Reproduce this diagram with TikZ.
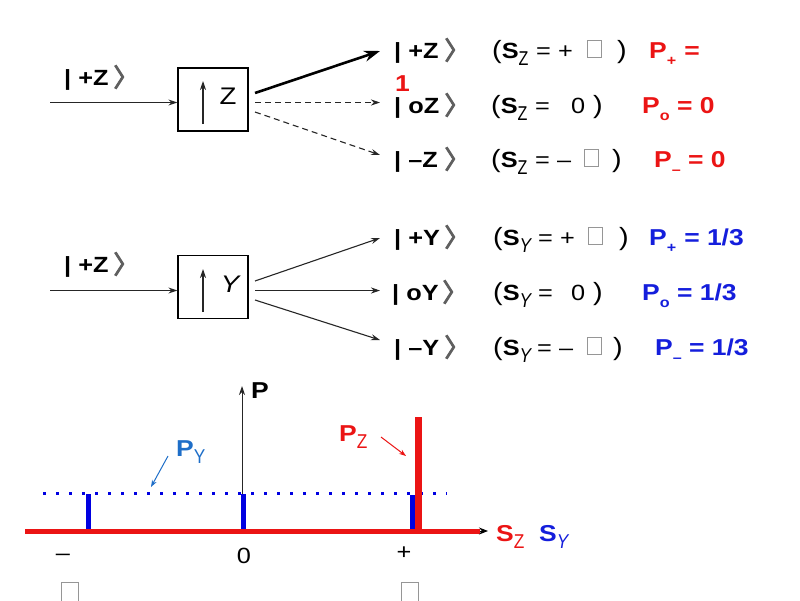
\documentclass[tikz,border=0pt]{standalone}
\usepackage{fontspec}
\usepackage{graphicx}
\setmainfont{Liberation Sans}[FakeStretch=1.15]
\newfontfamily\chevfont{Noto Sans CJK SC}[FakeBold=4]
\usetikzlibrary{arrows.meta}
\definecolor{myred}{RGB}{235,20,20}
\definecolor{myblue}{RGB}{20,30,220}
\definecolor{barblue}{RGB}{0,0,225}
\definecolor{pyblue}{RGB}{30,110,200}
\definecolor{chevgray}{RGB}{95,95,95}
\definecolor{boxgray}{RGB}{150,150,150}
\newcommand\zsub{\raisebox{-7pt}{\fontsize{20}{20}\selectfont\mdseries\scalebox{0.7}[1]{Z}}}
\newcommand\ysub{\raisebox{-7pt}{\fontsize{20}{20}\selectfont\mdseries\itshape\scalebox{0.75}[1]{Y}}}
\newcommand\psub[1]{\raisebox{-7pt}{\fontsize{14}{14}\selectfont #1}}
\newcommand\lpar{{\fontsize{25}{25}\selectfont(}}
\begin{document}
\begin{tikzpicture}[x=1pt,y=-1pt,
  txt/.style={inner sep=0pt, anchor=base west, font=\fontsize{22}{26}\selectfont},
  ket/.style={txt, font=\fontsize{22}{26}\selectfont\bfseries},
  chev/.style={inner sep=0pt, anchor=center, text=chevgray, font=\chevfont\fontsize{25}{25}\selectfont},
  par/.style={inner sep=0pt, anchor=base west, font=\fontsize{25}{25}\selectfont},
  gbox/.style={draw=boxgray, line width=0.8pt, minimum width=14pt, minimum height=17pt, inner sep=0pt, anchor=south west},
  gboxb/.style={gbox, minimum width=17pt, minimum height=20pt, anchor=north west},
  pz/.style={txt, font=\fontsize{23}{27}\selectfont\bfseries, text=myred},
  py/.style={txt, font=\fontsize{23}{27}\selectfont\bfseries, text=myblue},
  sg/.style={draw=black, line width=1.3pt, minimum width=70pt, minimum height=63pt, inner sep=0pt},
  thinarrow/.style={draw=black!85, line width=1.1pt, -{Stealth[length=9pt,width=6pt]}},
  dasharrow/.style={thinarrow, dash pattern=on 6pt off 4pt},
  thickarrow/.style={draw=black, line width=2.6pt, -{Stealth[length=16pt,width=11pt]}},
  bluebar/.style={draw=barblue, line width=5pt},
]
\useasboundingbox (0,0) rectangle (800,600);

% ---------- top: Z measurement ----------
\node[ket] (inZ) at (64,85) {| +Z};
\node[chev] (inZc) at (126,77) {〉};
\coordinate (aZs) at (50,102.5);
\node[sg] (bZ) at (213,99.5) {};
\node[txt, anchor=center, font=\fontsize{24}{24}\selectfont] (bZl) at (228,96) {Z};
\coordinate (uZb) at (203,124);
\coordinate (uZt) at (203,81);
\draw[thinarrow] (uZb) -- (uZt);
\draw[thinarrow] (aZs) -- (aZs -| bZ.west);
\coordinate (o1s) at (255,93);
\coordinate (o1e) at (380,51);
\coordinate (o2s) at (255,102.5);
\coordinate (o2e) at (380,102.5);
\coordinate (o3s) at (255,112);
\coordinate (o3e) at (380,155);
\draw[thickarrow] (o1s) -- (o1e);
\draw[dasharrow] (o2s) -- (o2e);
\draw[dasharrow] (o3s) -- (o3e);

% row 1
\node[ket] (k1) at (394,58) {| +Z};
\node[chev] (k1c) at (457,50) {〉};
\node[txt] (s1) at (492,58) {\lpar\textbf{S}\zsub};
\node[txt] (e1) at (536,58) {=};
\node[txt] (v1) at (558,58) {+};
\node[gbox] (h1) at (587,58) {};
\node[par] (p1b) at (617,58) {)};
\node[pz] (r1) at (649,58) {P\psub{+}\hspace{8pt}=};
\node[pz] (r1b) at (395,91) {1};
% row 2
\node[ket] (k2) at (394,113) {| oZ};
\node[chev] (k2c) at (457,105) {〉};
\node[txt] (s2) at (491,113) {\lpar\textbf{S}\zsub};
\node[txt] (e2) at (535,113) {=};
\node[txt] (v2) at (571,113) {0};
\node[par] (p2b) at (593,113) {)};
\node[pz] (r2) at (642,113) {P\psub{o} = 0};
% row 3
\node[ket] (k3) at (394,167) {| –Z};
\node[chev] (k3c) at (457,159) {〉};
\node[txt] (s3) at (491,167) {\lpar\textbf{S}\zsub};
\node[txt] (e3) at (535,167) {=};
\node[txt] (v3) at (557,167) {–};
\node[gbox] (h3) at (584,167) {};
\node[par] (p3b) at (612,167) {)};
\node[pz] (r3) at (654,167) {P\psub{–} = 0};

% ---------- middle: Y measurement ----------
\node[ket] (inY) at (64,272) {| +Z};
\node[chev] (inYc) at (126,264) {〉};
\coordinate (aYs) at (50,290.5);
\node[sg] (bY) at (213,287) {};
\node[txt, anchor=center, font=\fontsize{24}{24}\selectfont\itshape] (bYl) at (230,284) {Y};
\coordinate (uYb) at (203,312);
\coordinate (uYt) at (203,269);
\draw[thinarrow] (uYb) -- (uYt);
\draw[thinarrow] (aYs) -- (aYs -| bY.west);
\coordinate (o4s) at (255,281);
\coordinate (o4e) at (380,238);
\coordinate (o5s) at (255,290.5);
\coordinate (o5e) at (380,290.5);
\coordinate (o6s) at (255,300);
\coordinate (o6e) at (380,340);
\draw[thinarrow] (o4s) -- (o4e);
\draw[thinarrow] (o5s) -- (o5e);
\draw[thinarrow] (o6s) -- (o6e);

% row 4
\node[ket] (k4) at (394,245) {| +Y};
\node[chev] (k4c) at (457,237) {〉};
\node[txt] (s4) at (493,245) {\lpar\textbf{S}\ysub};
\node[txt] (e4) at (538,245) {=};
\node[txt] (v4) at (560,245) {+};
\node[gbox] (h4) at (588,245) {};
\node[par] (p4b) at (619,245) {)};
\node[py] (r4) at (649,245) {P\psub{+}\hspace{8pt}= 1/3};
% row 5
\node[ket] (k5) at (392,300) {| oY};
\node[chev] (k5c) at (455,292) {〉};
\node[txt] (s5) at (493,300) {\lpar\textbf{S}\ysub};
\node[txt] (e5) at (538,300) {=};
\node[txt] (v5) at (571,300) {0};
\node[par] (p5b) at (593,300) {)};
\node[py] (r5) at (642,300) {P\psub{o} = 1/3};
% row 6
\node[ket] (k6) at (394,355) {| –Y};
\node[chev] (k6c) at (457,347) {〉};
\node[txt] (s6) at (493,355) {\lpar\textbf{S}\ysub};
\node[txt] (e6) at (537,355) {=};
\node[txt] (v6) at (559,355) {–};
\node[gbox] (h6) at (587,355) {};
\node[par] (p6b) at (613,355) {)};
\node[py] (r6) at (655,355) {P\psub{–} = 1/3};

% ---------- bottom: distribution ----------
\coordinate (dl) at (43,493);
\coordinate (dr) at (447,493);
\draw[draw=barblue, line width=3pt, dash pattern=on 3pt off 10pt] (dl) -- (dr);
\coordinate (b1b) at (88,531);  \coordinate (b1t) at (88,494);
\coordinate (b2b) at (243,531); \coordinate (b2t) at (243,494);
\coordinate (b3b) at (412.5,531); \coordinate (b3t) at (412.5,495);
\coordinate (pab) at (242,531);
\coordinate (pat) at (242,386);
\draw[thinarrow, line width=1pt] (pab) -- (pat);
\draw[bluebar] (b1b) -- (b1t);
\draw[bluebar] (b2b) -- (b2t);
\draw[bluebar] (b3b) -- (b3t);
\coordinate (rbb) at (418.5,531);
\coordinate (rbt) at (418.5,417);
\draw[draw=myred, line width=6.5pt] (rbb) -- (rbt);
\coordinate (axl) at (25,531);
\coordinate (axr) at (480,531);
\coordinate (axt) at (488,531);
\draw[draw=myred, line width=5pt] (axl) -- (axr);
\draw[draw=black, line width=1pt, -{Stealth[length=9pt,width=7pt]}] (axr) -- (axt);

\node[txt, font=\fontsize{23}{27}\selectfont\bfseries] (pl) at (251,398) {P};
\node[pz] (pzl) at (339,441) {P\psub{\fontsize{20}{20}\selectfont\mdseries\scalebox{0.75}[1]{Z}}};
\node[txt, font=\fontsize{23}{27}\selectfont\bfseries, text=pyblue] (pyl) at (176,456) {P\psub{\fontsize{20}{20}\selectfont\mdseries\scalebox{0.75}[1]{Y}}};
\coordinate (pzas) at (381,437);
\coordinate (pzae) at (406,456);
\draw[draw=myred, line width=1pt, -{Stealth[length=7pt,width=5pt]}] (pzas) -- (pzae);
\coordinate (pyas) at (168,456);
\coordinate (pyae) at (151,487);
\draw[draw=pyblue, line width=1pt, -{Stealth[length=7pt,width=5pt]}] (pyas) -- (pyae);
\node[pz] (szl) at (496,541) {S\psub{\fontsize{20}{20}\selectfont\mdseries\scalebox{0.75}[1]{Z}}};
\node[py] (syl) at (539,541) {S\psub{\fontsize{20}{20}\selectfont\mdseries\itshape\scalebox{0.75}[1]{Y}}};

\node[txt, anchor=center] (tm) at (63,557) {–};
\node[txt, anchor=center] (t0) at (244,555.5) {0};
\node[txt, anchor=center] (tp) at (404,553) {+};
\node[gboxb] (hb1) at (61,582) {};
\node[gboxb] (hb2) at (401,582) {};
\end{tikzpicture}
\end{document}
